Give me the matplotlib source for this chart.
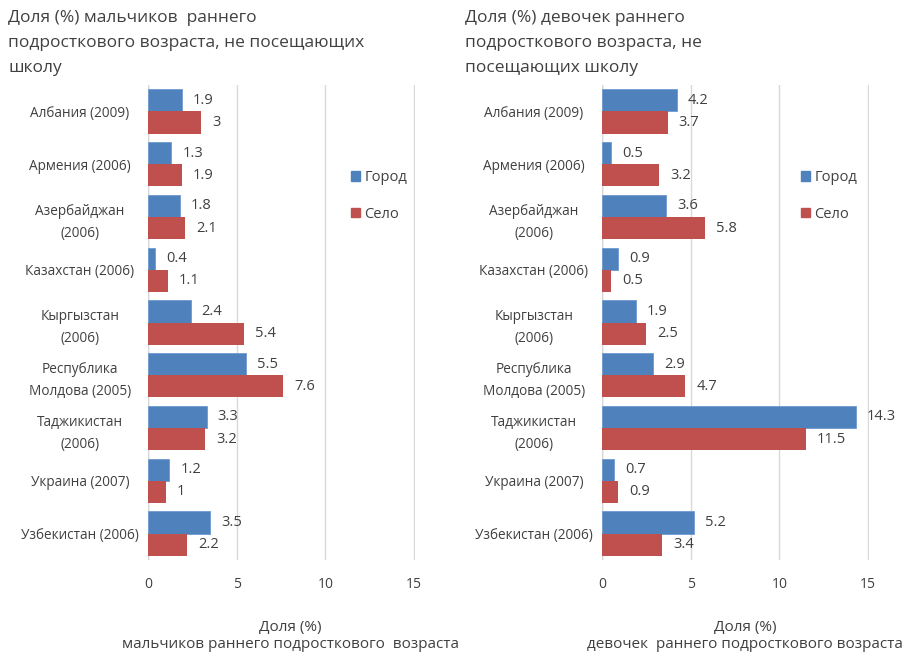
import numpy as np
import matplotlib
matplotlib.use("Agg")
import matplotlib.pyplot as plt
from matplotlib.patches import Patch

plt.rcParams['font.family'] = ['Open Sans', 'DejaVu Sans']

# данные
cats_boys = ["Албания (2009)", "Армения (2006)", "Азербайджан\n(2006)", "Казахстан (2006)",
             "Кыргызстан\n(2006)", "Республика\nМолдова (2005)", "Таджикистан\n(2006)",
             "Украина (2007)", "Узбекистан (2006)"]
cats_girls = cats_boys
boys_city = [1.9, 1.3, 1.8, 0.4, 2.4, 5.5, 3.3, 1.2, 3.5]
boys_village = [3, 1.9, 2.1, 1.1, 5.4, 7.6, 3.2, 1, 2.2]
girls_city = [4.2, 0.5, 3.6, 0.9, 1.9, 2.9, 14.3, 0.7, 5.2]
girls_village = [3.7, 3.2, 5.8, 0.5, 2.5, 4.7, 11.5, 0.9, 3.4]
xticks = [0, 5, 10, 15]

blue = '#4F81BD'
red = '#C0504D'
txt = '#404040'

W, H = 906, 654
fig = plt.figure(figsize=(W / 100, H / 100), dpi=100)


def panel(x0, x1, cats, city, village, title, tx, xl1, xl2, xlc, legx):
    top, bot = 85, 560
    ax = fig.add_axes([x0 / W, 1 - bot / H, (x1 - x0) / W, (bot - top) / H])
    y = np.arange(len(cats))
    h = 0.42
    ax.barh(y - h / 2, city, height=h, color=blue, edgecolor='#6f9bd0', linewidth=0.6, zorder=2)
    ax.barh(y + h / 2, village, height=h, color=red, zorder=2)
    for yi, v in zip(y, city):
        ax.annotate(f"{v:g}", (v, yi - h / 2), xytext=(8, 0), textcoords='offset points',
                    va='center', ha='left', fontsize=10.5, color=txt)
    for yi, v in zip(y, village):
        ax.annotate(f"{v:g}", (v, yi + h / 2), xytext=(8, 0), textcoords='offset points',
                    va='center', ha='left', fontsize=10.5, color=txt)
    ax.set_ylim(len(cats) - 0.5, -0.5)
    ax.set_xlim(0, 15.05)
    ax.set_yticks(y)
    ax.set_yticklabels(cats, fontsize=9.8, color=txt, ha='center', linespacing=1.6)
    ax.tick_params(axis='y', length=0, pad=49)
    ax.set_xticks(xticks)
    ax.tick_params(axis='x', length=0, pad=12, labelsize=10, colors=txt)
    for s in ax.spines.values():
        s.set_visible(False)
    ax.grid(axis='x', color='#d9d9d9', linewidth=1, zorder=0)
    ax.axvline(0, color='#bfbfbf', linewidth=1, zorder=1)
    fig.text(tx / W, 1 - 10 / H, title, fontsize=12.5, color=txt, va='top', ha='left', linespacing=1.75)
    fig.text(xlc / W, 1 - 627 / H, xl1, fontsize=11, color=txt, ha='center', va='center')
    fig.text(xlc / W, 1 - 645 / H, xl2, fontsize=11, color=txt, ha='center', va='center')
    handles = [Patch(color=blue, label='Город'), Patch(color=red, label='Село')]
    fig.legend(handles=handles, loc='center left', bbox_to_anchor=(legx / W, 1 - 196 / H),
               frameon=False, fontsize=10.5, handlelength=0.6, handleheight=0.6,
               handletextpad=0.3, labelspacing=1.5, labelcolor=txt)
    return ax


panel(148, 415, cats_boys, boys_city, boys_village,
      "Доля (%) мальчиков  раннего\nподросткового возраста, не посещающих\nшколу",
      8, "Доля (%)", "мальчиков раннего подросткового  возраста", 290, 338)
# подпись центрируется под осью, сдвиг вручную
panel(602, 869, cats_girls, girls_city, girls_village,
      "Доля (%) девочек раннего\nподросткового возраста, не\nпосещающих школу",
      465, "Доля (%)", "девочек  раннего подросткового возраста", 745, 788)

fig.savefig("out.png", dpi=100)
